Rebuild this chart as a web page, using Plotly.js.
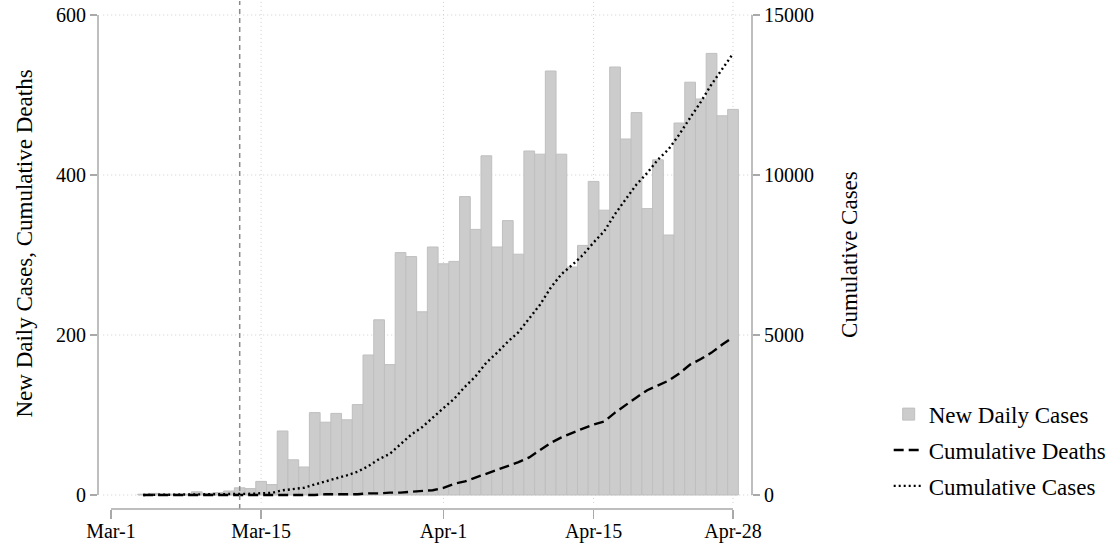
<!DOCTYPE html>
<html>
<head>
<meta charset="utf-8">
<script src="https://cdn.plot.ly/plotly-3.0.1.min.js"></script>
<style>
  html, body { margin: 0; padding: 0; background: #ffffff; }
  #chart { width: 1120px; height: 554px; }
</style>
</head>
<body>
<div id="chart"></div>
<script>
// Daily dates, Mar-4 through Apr-28
const dates = [
  '2020-03-04','2020-03-05','2020-03-06','2020-03-07','2020-03-08','2020-03-09','2020-03-10',
  '2020-03-11','2020-03-12','2020-03-13','2020-03-14','2020-03-15','2020-03-16','2020-03-17',
  '2020-03-18','2020-03-19','2020-03-20','2020-03-21','2020-03-22','2020-03-23','2020-03-24',
  '2020-03-25','2020-03-26','2020-03-27','2020-03-28','2020-03-29','2020-03-30','2020-03-31',
  '2020-04-01','2020-04-02','2020-04-03','2020-04-04','2020-04-05','2020-04-06','2020-04-07',
  '2020-04-08','2020-04-09','2020-04-10','2020-04-11','2020-04-12','2020-04-13','2020-04-14',
  '2020-04-15','2020-04-16','2020-04-17','2020-04-18','2020-04-19','2020-04-20','2020-04-21',
  '2020-04-22','2020-04-23','2020-04-24','2020-04-25','2020-04-26','2020-04-27','2020-04-28'
];

const newDailyCases = [
  1, 2, 1, 1, 1, 4, 2,
  3, 5, 9, 8, 17, 13, 80,
  44, 35, 103, 91, 102, 94, 113,
  175, 219, 163, 303, 298, 229, 310,
  289, 292, 373, 332, 424, 310, 343,
  301, 430, 426, 530, 426, 285, 312,
  392, 356, 535, 445, 478, 358, 419,
  325, 465, 516, 495, 552, 474, 482
];

const cumulativeDeaths = [
  0, 0, 0, 0, 0, 0, 0,
  0, 0, 0, 0, 0, 0, 0,
  0, 0, 0, 1, 1, 1, 1,
  2, 2, 3, 3, 4, 5, 6,
  9, 14, 17, 22, 26, 31, 36,
  41, 47, 56, 65, 72, 78, 83,
  88, 92, 103, 113, 122, 131, 137,
  143, 152, 163, 170, 178, 188, 197
];

const cumulativeCases = [
  1, 3, 4, 5, 6, 10, 12,
  15, 20, 29, 37, 54, 67, 147,
  191, 226, 329, 420, 522, 616, 729,
  904, 1123, 1286, 1589, 1887, 2116, 2426,
  2715, 3007, 3380, 3712, 4136, 4446, 4789,
  5090, 5520, 5946, 6476, 6902, 7187, 7499,
  7891, 8247, 8782, 9227, 9705, 10063, 10482,
  10807, 11272, 11788, 12283, 12835, 13309, 13791
];

// Axis ticks
const xTickDates = ['2020-03-01', '2020-03-15', '2020-04-01', '2020-04-15', '2020-04-28'];
const xTickLabels = ['Mar-1', 'Mar-15', 'Apr-1', 'Apr-15', 'Apr-28'];
const leftTicks = [0, 200, 400, 600];
const rightTicks = [0, 5000, 10000, 15000];
const markerDate = '2020-03-13';

const FONT = "'Liberation Serif', 'Times New Roman', serif";
const AXIS_GREY = '#a9a9a9';
const GRID_GREY = '#cdcdcd';

const traces = [
  {
    type: 'bar',
    name: 'New Daily Cases',
    x: dates,
    y: newDailyCases,
    yaxis: 'y',
    marker: { color: '#cccccc', line: { color: '#bfbfbf', width: 1 } },
    legendgroup: 'g1'
  },
  {
    type: 'scatter',
    mode: 'lines',
    name: 'Cumulative Deaths',
    x: dates,
    y: cumulativeDeaths,
    yaxis: 'y',
    line: { color: '#000000', width: 2.4, dash: '10px,5px' },
    legendgroup: 'g2'
  },
  {
    type: 'scatter',
    mode: 'lines',
    name: 'Cumulative Cases',
    x: dates,
    y: cumulativeCases,
    yaxis: 'y2',
    line: { color: '#000000', width: 2.4, dash: '2px,3px' },
    legendgroup: 'g3'
  }
];

const shapes = [];
// dotted horizontal grid
leftTicks.forEach(v => shapes.push({
  type: 'line', layer: 'below', xref: 'paper', x0: 0.008, x1: 1, yref: 'y', y0: v, y1: v,
  line: { color: GRID_GREY, width: 1, dash: '1px,3px' }
}));
// dotted vertical grid (not at the first tick)
xTickDates.slice(1).forEach(d => shapes.push({
  type: 'line', layer: 'below', xref: 'x', x0: d, x1: d, yref: 'paper', y0: 0.012, y1: 1,
  line: { color: GRID_GREY, width: 1, dash: '1px,3px' }
}));
// reference date marker
shapes.push({
  type: 'line', layer: 'above', xref: 'x', x0: markerDate, x1: markerDate, yref: 'paper', y0: 0, y1: 1,
  line: { color: '#8a8a8a', width: 1.5, dash: '5px,4px' }
});
// axis lines
shapes.push({
  type: 'line', xref: 'paper', x0: 0, x1: 0, yref: 'y', y0: leftTicks[0], y1: leftTicks[leftTicks.length - 1],
  line: { color: AXIS_GREY, width: 1.5 }
});
shapes.push({
  type: 'line', xref: 'paper', x0: 1, x1: 1, yref: 'y2', y0: rightTicks[0], y1: rightTicks[rightTicks.length - 1],
  line: { color: AXIS_GREY, width: 1.5 }
});
shapes.push({
  type: 'line', xref: 'x', x0: xTickDates[0], x1: xTickDates[xTickDates.length - 1], yref: 'paper', y0: 0, y1: 0,
  line: { color: AXIS_GREY, width: 1.5 }
});

const layout = {
  width: 1120,
  height: 554,
  margin: { l: 98, r: 368, t: 1, b: 45, pad: 0 },
  paper_bgcolor: '#ffffff',
  plot_bgcolor: '#ffffff',
  font: { family: FONT, size: 20, color: '#000000' },
  bargap: 0,
  showlegend: true,
  xaxis: {
    type: 'date',
    range: ['2020-02-28 18:54', '2020-04-29 18:30'],
    tickmode: 'array',
    tickvals: xTickDates,
    ticktext: xTickLabels,
    ticks: 'outside', ticklen: 9, tickwidth: 1.5, tickcolor: AXIS_GREY,
    ticklabelstandoff: -5,
    showgrid: false, zeroline: false, showline: false,
    tickfont: { family: FONT, size: 20, color: '#000000' }
  },
  yaxis: {
    range: [-17.5, 617.5],
    tickmode: 'array',
    tickvals: leftTicks,
    ticks: 'outside', ticklen: 7, tickwidth: 1.5, tickcolor: AXIS_GREY,
    showgrid: false, zeroline: false, showline: false,
    tickfont: { family: FONT, size: 20, color: '#000000' }
  },
  yaxis2: {
    overlaying: 'y',
    side: 'right',
    range: [-437.5, 15437.5],
    tickmode: 'array',
    tickvals: rightTicks,
    tickformat: 'd',
    ticks: 'outside', ticklen: 7, tickwidth: 1.5, tickcolor: AXIS_GREY,
    showgrid: false, zeroline: false, showline: false,
    tickfont: { family: FONT, size: 20, color: '#000000' }
  },
  legend: {
    x: 1.209, xanchor: 'left',
    y: 0.229, yanchor: 'top',
    bgcolor: 'rgba(0,0,0,0)',
    borderwidth: 0,
    itemwidth: 30,
    tracegroupgap: 3,
    font: { family: FONT, size: 23, color: '#000000' }
  },
  annotations: [
    {
      text: 'New Daily Cases, Cumulative Deaths',
      xref: 'paper', yref: 'paper', x: -0.1116, y: 0.5226,
      xanchor: 'center', yanchor: 'middle', textangle: -90, showarrow: false,
      font: { family: FONT, size: 23, color: '#000000' }
    },
    {
      text: 'Cumulative Cases',
      xref: 'paper', yref: 'paper', x: 1.1498, y: 0.502,
      xanchor: 'center', yanchor: 'middle', textangle: -90, showarrow: false,
      font: { family: FONT, size: 23, color: '#000000' }
    }
  ],
  shapes: shapes
};

Plotly.newPlot('chart', traces, layout, { displayModeBar: false, staticPlot: true });
</script>
</body>
</html>
